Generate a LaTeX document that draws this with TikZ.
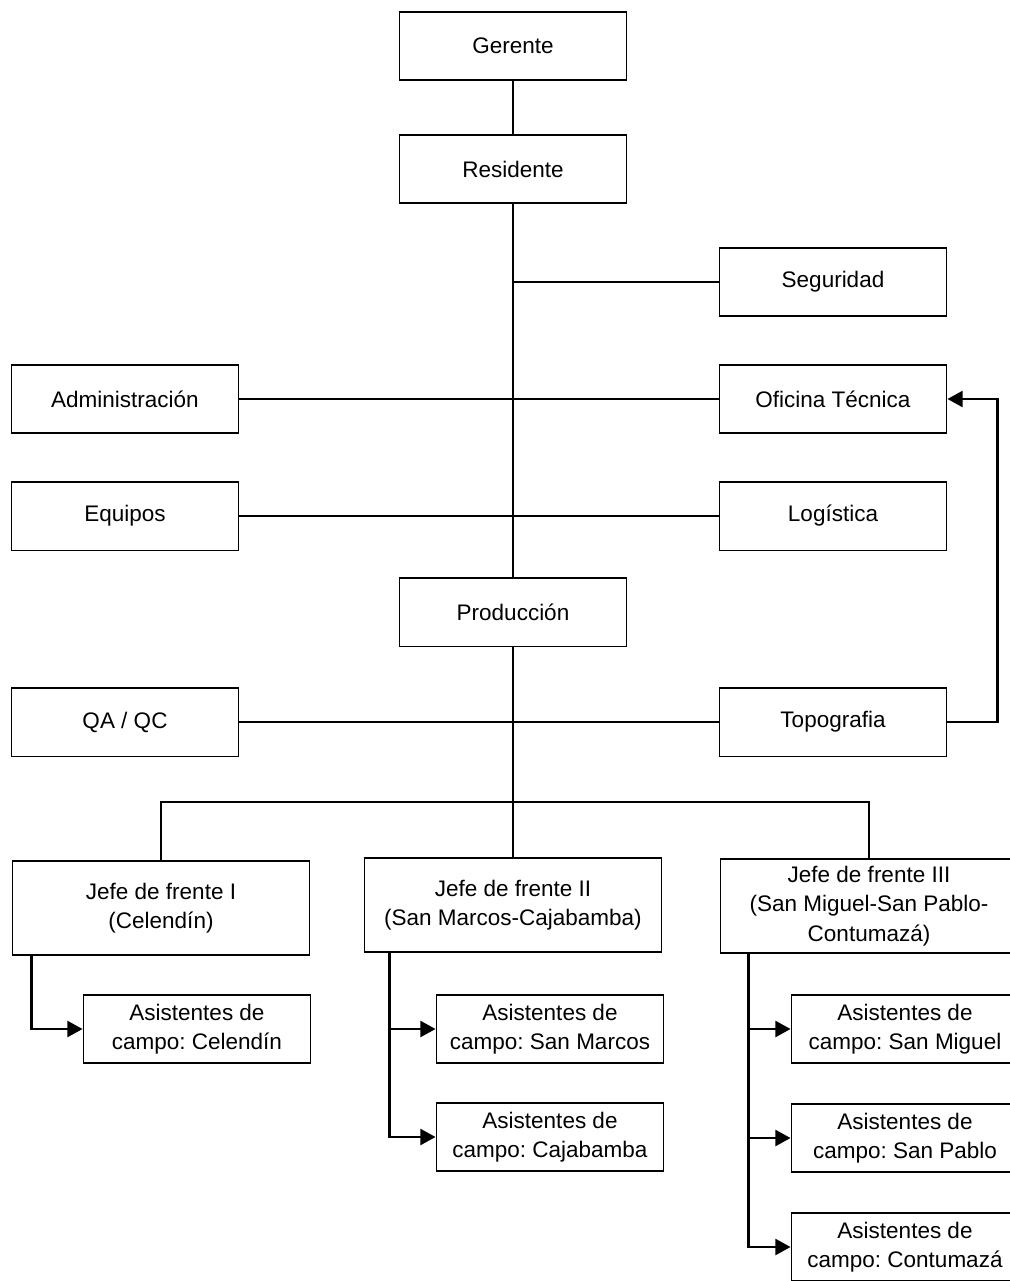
\documentclass[tikz,border=0pt]{standalone}
\usepackage{fontspec}
\setmainfont{Liberation Sans}
\usepackage{tikz}
\usetikzlibrary{arrows.meta, calc}
\frenchspacing

\begin{document}
\begin{tikzpicture}[
    x=0.025cm, y=-0.025cm,
    box/.style={rectangle, draw=black, fill=white, minimum width=5.675cm, minimum height=1.72cm, inner sep=0pt, align=center, font=\fontsize{16}{21}\selectfont, line width=1.3pt},
    jefe/.style={box, minimum width=7.425cm, minimum height=2.35cm},
    asis/.style={box, minimum height=1.7cm},
    link/.style={line width=1.7pt, color=black},
    arrow/.style={-{Triangle[length=0.38cm, width=0.4cm]}, line width=1.7pt, color=black}
]
    \useasboundingbox (0,0) rectangle (1010,1281);
    \clip (0,0) rectangle (1010,1281);

    % --- Direction ---
    \node[box] (gerente) at (513, 46) {Gerente};
    \node[box] (residente) at (513, 169) {Residente};

    % --- Staff ---
    \node[box] (seguridad) at (833, 282) {Seguridad};
    \node[box] (admin) at (125, 399) {Administración};
    \node[box] (oficina) at (833, 399) {Oficina Técnica};
    \node[box] (equipos) at (125, 516) {Equipos};
    \node[box] (logistica) at (833, 516) {Logística};
    \node[box] (produccion) at (513, 612) {Producción};
    \node[box] (qaqc) at (125, 722) {QA / QC};
    \node[box] (topo) at (833, 722) {Topografia};

    % --- Frentes ---
    \node[jefe] (jefeI) at (161, 908) {Jefe de frente I\\(Celendín)};
    \node[jefe] (jefeII) at (513, 905) {Jefe de frente II\\(San Marcos-Cajabamba)};
    \node[jefe] (jefeIII) at (869, 906) {Jefe de frente III\\(San Miguel-San Pablo-\\Contumazá)};

    % --- Asistentes ---
    \node[asis] (asCel) at (197, 1029) {Asistentes de\\campo: Celendín};
    \node[asis] (asSMar) at (550, 1029) {Asistentes de\\campo: San Marcos};
    \node[asis] (asCaja) at (550, 1137) {Asistentes de\\campo: Cajabamba};
    \node[asis] (asSMig) at (905, 1029) {Asistentes de\\campo: San Miguel};
    \node[asis] (asSPab) at (905, 1138) {Asistentes de\\campo: San Pablo};
    \node[asis] (asCont) at (905, 1247) {Asistentes de\\campo: Contumazá};

    % Connections spine
    \draw[link] (gerente) -- (residente);
    \draw[link] (residente.south) -- (produccion.north);
    \draw[link] (seguridad.west) -- (seguridad.west -| residente.south);
    \draw[link] (admin) -- (oficina);
    \draw[link] (equipos) -- (logistica);
    \draw[link] (qaqc) -- (topo);
    \draw[arrow] (topo.east) -- ++(50,0) |- (oficina.east);

    % Connections to frentes
    \coordinate (bar) at (513, 802);
    \draw[link] (produccion.south) -- (bar);
    \draw[link] (jefeI.north) |- (bar) -| (jefeIII.north);
    \draw[link] (bar) -- (jefeII.north);

    % Connections to asistentes
    \draw[arrow] ($(jefeI.south west)+(20,0)$) |- (asCel.west);
    \draw[arrow] ($(jefeII.south west)+(26,0)$) |- (asSMar.west);
    \draw[arrow] ($(jefeII.south west)+(26,0)$) |- (asCaja.west);
    \draw[arrow] ($(jefeIII.south west)+(29,0)$) |- (asSMig.west);
    \draw[arrow] ($(jefeIII.south west)+(29,0)$) |- (asSPab.west);
    \draw[arrow] ($(jefeIII.south west)+(29,0)$) |- (asCont.west);
\end{tikzpicture}
\end{document}
